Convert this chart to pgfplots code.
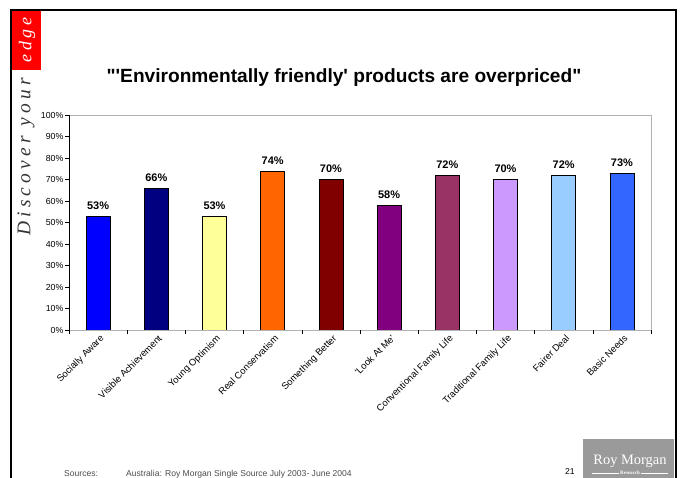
\documentclass[border=0pt]{standalone}
\usepackage{pgfplots}
\pgfplotsset{compat=1.18}
\usepackage{fontspec}
\setmainfont{Liberation Sans}
\newfontfamily\slideserif{Liberation Serif}
\newfontfamily\spacedserif{Liberation Serif}[LetterSpace=22]
\definecolor{c1}{HTML}{0000FF}
\definecolor{c2}{HTML}{000080}
\definecolor{c3}{HTML}{FFFF99}
\definecolor{c4}{HTML}{FF6600}
\definecolor{c5}{HTML}{800000}
\definecolor{c6}{HTML}{800080}
\definecolor{c7}{HTML}{993366}
\definecolor{c8}{HTML}{CC99FF}
\definecolor{c9}{HTML}{99CCFF}
\definecolor{c10}{HTML}{3366FF}
\definecolor{logogray}{HTML}{9A9A9A}
\begin{document}
\begin{tikzpicture}
\useasboundingbox (0,0) rectangle (680bp,478bp);
% slide frame
\draw[line width=1.5bp] (11bp,0) -- (11bp,468bp) -- (676bp,468bp) -- (676bp,0);
% red box with "edge"
\fill[red] (12bp,408bp) rectangle (41bp,467bp);
\node[rotate=90, text=white, font=\spacedserif\itshape\fontsize{18}{19}\selectfont, inner sep=0pt] at (27bp,438bp) {edge};
\node[rotate=90, text=black!80, font=\spacedserif\itshape\fontsize{19.5}{20}\selectfont, inner sep=0pt] at (26bp,321bp) {Discover your};
% title
\node[font=\bfseries\fontsize{19.2}{22}\selectfont, inner sep=0pt] at (344bp,400bp) {\textquotedbl\textquotesingle Environmentally friendly\textquotesingle{} products are overpriced\textquotedbl};
\begin{axis}[
  at={(69bp,148bp)}, anchor=south west, scale only axis,
  width=582bp, height=215bp,
  xmin=-0.5, xmax=9.5, ymin=0, ymax=100,
  ybar, bar width=24bp,
  /pgf/number format/assume math mode=true,
  axis line style={draw=gray!60},
  tick align=outside, major tick length=4bp,
  tick style={black, line width=0.6bp},
  xtick pos=bottom, ytick pos=left,
  ytick={0,10,...,100},
  yticklabel={\pgfmathprintnumber{\tick}\%},
  y tick label style={font=\fontsize{8.8}{10}\selectfont, inner sep=1.5bp},
  xtick={0,...,9},
  xticklabels={Socially Aware, Visible Achievement, Young Optimism, Real Conservatism, Something Better, \textquotesingle Look At Me\textquotesingle, Conventional Family Life, Traditional Family Life, Fairer Deal, Basic Needs},
  major x tick style={draw=none},
  x tick label style={rotate=45, anchor=north east, font=\fontsize{9.5}{11}\selectfont, inner sep=1pt, xshift=2bp},
  extra x ticks={-0.5,0.5,...,9.5},
  extra x tick labels={},
  extra x tick style={major x tick style={draw=black}},
  nodes near coords={\pgfmathprintnumber{\pgfplotspointmeta}\%},
  nodes near coords style={font=\bfseries\fontsize{11}{13}\selectfont, yshift=3bp, text=black},
  every axis plot/.append style={draw=black, line width=0.6bp, bar shift=0pt},
]
\addplot[fill=c1, bar shift=0pt] coordinates {(0,53)};
\addplot[fill=c2, bar shift=0pt] coordinates {(1,66)};
\addplot[fill=c3, bar shift=0pt] coordinates {(2,53)};
\addplot[fill=c4, bar shift=0pt] coordinates {(3,74)};
\addplot[fill=c5, bar shift=0pt] coordinates {(4,70)};
\addplot[fill=c6, bar shift=0pt] coordinates {(5,58)};
\addplot[fill=c7, bar shift=0pt] coordinates {(6,72)};
\addplot[fill=c8, bar shift=0pt] coordinates {(7,70)};
\addplot[fill=c9, bar shift=0pt] coordinates {(8,72)};
\addplot[fill=c10, bar shift=0pt] coordinates {(9,73)};
\draw[black, line width=0.8bp] (rel axis cs:0,1) -- (rel axis cs:0,0) -- (rel axis cs:1,0);
\end{axis}
% footer
\node[anchor=base west, font=\fontsize{8.6}{10}\selectfont, text=black!70, inner sep=0pt] at (64bp,2bp) {Sources:};
\node[anchor=base west, font=\fontsize{8.6}{10}\selectfont, text=black!70, inner sep=0pt] at (126bp,2bp) {Australia: Roy Morgan Single Source July 2003- June 2004};
\node[anchor=base west, font=\fontsize{8.6}{10}\selectfont, inner sep=0pt] at (565bp,4bp) {21};
% logo
\fill[logogray] (583bp,0) rectangle (674bp,39bp);
\node[text=white, font=\slideserif\fontsize{14.5}{15}\selectfont, inner sep=0pt] at (630bp,17bp) {Roy Morgan};
\node[text=white, font=\slideserif\bfseries\fontsize{5}{6}\selectfont, inner sep=1pt, fill=logogray] (rs) at (630bp,5bp) {Research};
\draw[white, line width=0.6bp] (592bp,5bp) -- (rs.west) (rs.east) -- (668bp,5bp);
\end{tikzpicture}
\end{document}
